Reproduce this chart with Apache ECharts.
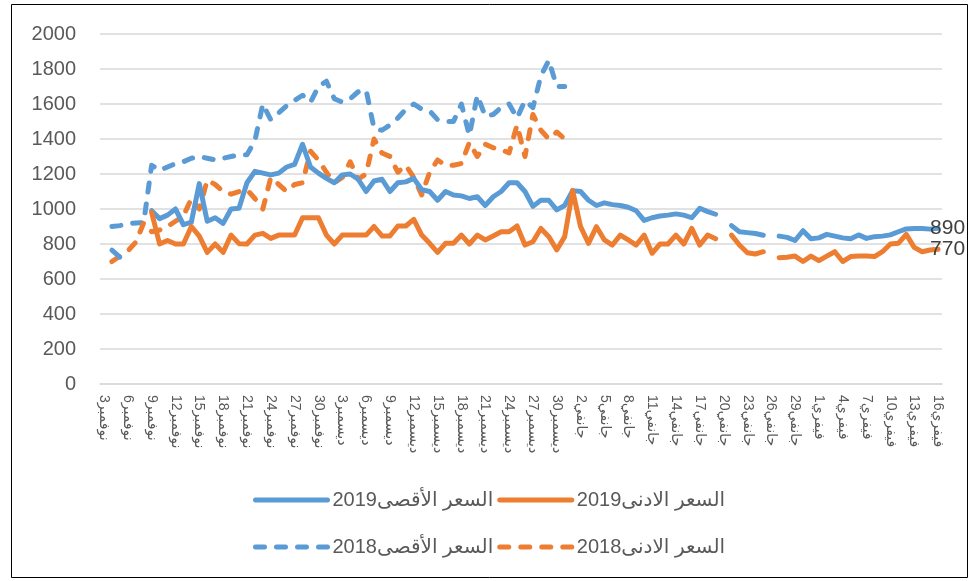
<!DOCTYPE html>
<html>
<head>
<meta charset="utf-8">
<script src="https://cdn.jsdelivr.net/npm/echarts@6/dist/echarts.min.js"></script>
<style>
  html, body { margin: 0; padding: 0; background: #fff; }
  #chart { width: 970px; height: 581px; }
</style>
</head>
<body>
<div id="chart"></div>
<script>
// الأشهر: الاسم، أول يوم، آخر يوم
var months = [['نوفمبر', 3, 30], ['ديسمبر', 1, 31], ['جانفي', 1, 31], ['فيفري', 1, 16]];

var yTicks = [0, 200, 400, 600, 800, 1000, 1200, 1400, 1600, 1800, 2000];

var names = ['السعر الأقصى2019', 'السعر الادنى2019', 'السعر الأقصى2018', 'السعر الادنى2018'];

// السعر الأقصى 2019
var max2019 = [null, 765, 725, null, null, null, 990, 945, 965, 1000,
  910, 925, 1145, 930, 950, 918, 1000, 1004, 1150, 1215,
  1205, 1195, 1205, 1240, 1255, 1370, 1240, 1205, 1175, 1150,
  1195, 1200, 1170, 1100, 1160, 1170, 1100, 1150, 1155, 1175,
  1110, 1100, 1050, 1100, 1080, 1075, 1060, 1070, 1020, 1070,
  1100, 1150, 1150, 1100, 1015, 1050, 1050, 995, 1020, 1105,
  1100, 1050, 1020, 1035, 1025, 1020, 1010, 990, 935, 950,
  960, 965, 972, 965, 950, 1004, 985, 970, null, 905,
  870, 865, 860, 850, null, 845, 838, 820, 876, 830,
  835, 855, 845, 835, 830, 852, 832, 842, 845, 852,
  870, 886, 888, 888, 885, 890];

// السعر الادنى 2019
var min2019 = [null, null, null, null, null, null, 980, 800, 820, 800,
  800, 900, 845, 752, 800, 752, 851, 802, 800, 851,
  861, 832, 851, 851, 851, 950, 950, 950, 851, 800,
  851, 851, 851, 851, 900, 846, 846, 903, 903, 941,
  851, 804, 752, 804, 804, 851, 800, 851, 823, 846,
  870, 870, 903, 794, 813, 889, 842, 766, 842, 1105,
  899, 804, 899, 823, 794, 851, 823, 794, 851, 747,
  800, 800, 851, 800, 889, 794, 851, 830, null, 851,
  794, 750, 743, 756, null, 722, 724, 731, 700, 731,
  705, 731, 756, 700, 728, 731, 731, 728, 756, 800,
  804, 855, 781, 756, 766, 770];

// السعر الأقصى 2018
var max2018 = [null, 900, 905, 915, 920, 922, 1250, 1220, 1240, 1260,
  1270, 1290, 1300, 1290, 1280, 1290, 1300, 1310, 1310, 1390,
  1600, 1510, 1550, 1590, 1620, 1650, 1610, 1700, 1730, 1630,
  1610, 1630, 1670, 1680, 1460, 1450, 1480, 1520, 1570, 1600,
  1570, 1560, 1510, 1500, 1500, 1600, 1420, 1650, 1530, 1540,
  1580, 1600, 1520, 1620, 1580, 1760, 1850, 1700, 1700];

// السعر الادنى 2018
var min2018 = [null, 700, 730, 760, 810, 920, 870, 880, 900, 930,
  960, 1060, 1000, 1165, 1140, 1100, 1085, 1100, 1110, 1060,
  1000, 1180, 1140, 1100, 1140, 1150, 1330, 1280, 1210, 1150,
  1180, 1270, 1170, 1200, 1400, 1320, 1300, 1210, 1250, 1180,
  1080, 1210, 1280, 1250, 1250, 1260, 1380, 1300, 1370, 1350,
  1340, 1320, 1480, 1300, 1540, 1450, 1400, 1440, 1400];

var categories = [];
months.forEach(function (m) {
    for (var d = m[1]; d <= m[2]; d++) {
        categories.push(d + m[0]);
    }
});

var blue = '#5b9bd5';
var orange = '#ed7d31';
var font = "'Liberation Sans', 'DejaVu Sans', sans-serif";

function makeSeries(name, data, color, dashed, endLabel) {
    return {
        name: name,
        type: 'line',
        data: data,
        symbol: 'none',
        connectNulls: false,
        lineStyle: {
            color: color,
            width: 5,
            type: dashed ? [9, 12] : 'solid',
            cap: 'round',
            join: 'round'
        },
        itemStyle: { color: color },
        endLabel: {
            show: endLabel,
            formatter: '{c}',
            color: '#404040',
            fontSize: 21,
            fontFamily: font,
            distance: -8
        },
        z: dashed ? 2 : 3
    };
}

var legendBase = {
    left: 248,
    itemWidth: 72,
    itemHeight: 14,
    itemGap: 4,
    itemStyle: { opacity: 0 },
    lineStyle: { width: 5 },
    textStyle: { fontSize: 20, color: '#595959', fontFamily: font }
};

var myChart = echarts.init(document.getElementById('chart'));

var option = {
    animation: false,
    grid: { left: 100, right: 28, top: 34, bottom: 197 },
    graphic: [{
        type: 'rect',
        shape: { x: 11.5, y: 4.5, width: 956, height: 573 },
        style: { fill: 'none', stroke: '#000', lineWidth: 1 }
    }],
    legend: [
        echarts.util.merge({ data: [names[0], names[1]], top: 485 }, legendBase),
        echarts.util.merge({ data: [names[2], names[3]], top: 532 }, legendBase)
    ],
    xAxis: {
        type: 'category',
        data: categories,
        boundaryGap: true,
        axisLine: { lineStyle: { color: '#d9d9d9', width: 1.5 } },
        axisTick: { show: false },
        axisLabel: {
            interval: 2,
            rotate: -90,
            margin: 11,
            fontSize: 14,
            color: '#595959',
            fontFamily: font
        }
    },
    yAxis: {
        type: 'value',
        min: yTicks[0],
        max: yTicks[yTicks.length - 1],
        interval: yTicks[1] - yTicks[0],
        axisLine: { show: false },
        axisTick: { show: false },
        splitLine: { lineStyle: { color: '#d9d9d9', width: 1.5 } },
        axisLabel: {
            margin: 24,
            fontSize: 20,
            color: '#595959',
            fontFamily: font,
            formatter: function (v) { return String(v); }
        }
    },
    series: [
        makeSeries(names[0], max2019, blue, false, true),
        makeSeries(names[1], min2019, orange, false, true),
        makeSeries(names[2], max2018, blue, true, false),
        makeSeries(names[3], min2018, orange, true, false)
    ]
};

myChart.setOption(option);
</script>
</body>
</html>
